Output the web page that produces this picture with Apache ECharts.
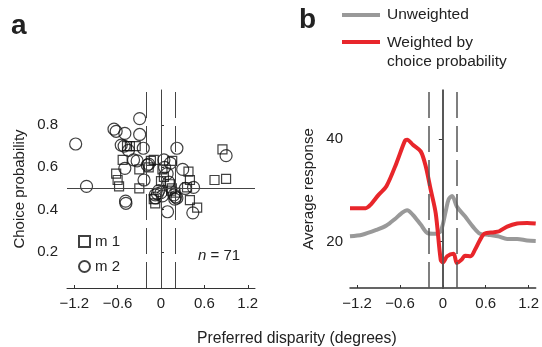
<!DOCTYPE html>
<html>
<head>
<meta charset="utf-8">
<script src="https://cdn.jsdelivr.net/npm/echarts@6/dist/echarts.min.js"></script>
<style>
  html, body { margin: 0; padding: 0; background: #fff; }
  #chart { width: 542px; height: 347px; }
</style>
</head>
<body>
<div id="chart"></div>
<script>
// panel a: choice probability vs preferred disparity
const m1Points = [
  [-0.62, 0.57], [-0.60, 0.54], [-0.58, 0.51], [-0.53, 0.635], [-0.47, 0.70], [-0.43, 0.70],
  [-0.35, 0.70], [-0.30, 0.59], [-0.30, 0.50], [-0.17, 0.60], [-0.14, 0.63], [-0.10, 0.635],
  [-0.10, 0.45], [-0.08, 0.43], [0.02, 0.59], [0.04, 0.555], [0.0, 0.535], [0.12, 0.52],
  [0.14, 0.49], [0.155, 0.63], [0.15, 0.50], [0.20, 0.48], [0.38, 0.58], [0.40, 0.54],
  [0.36, 0.505], [0.40, 0.445], [0.50, 0.41], [0.74, 0.54], [0.90, 0.545], [0.85, 0.685]
];
const m2Points = [
  [-1.18, 0.71], [-1.03, 0.51], [-0.295, 0.83], [-0.65, 0.78], [-0.62, 0.77], [-0.50, 0.76],
  [-0.295, 0.755], [-0.55, 0.705], [-0.51, 0.70], [-0.245, 0.69], [0.22, 0.69], [-0.38, 0.635],
  [-0.50, 0.595], [-0.19, 0.61], [-0.17, 0.615], [0.04, 0.635], [0.13, 0.62], [0.30, 0.59],
  [0.085, 0.57], [-0.235, 0.54], [0.107, 0.53], [0.45, 0.505], [0.335, 0.50], [-0.03, 0.49],
  [0.0, 0.48], [-0.05, 0.475], [-0.075, 0.455], [0.18, 0.47], [0.2, 0.46], [0.22, 0.455],
  [0.19, 0.45], [-0.49, 0.44], [-0.485, 0.43], [0.09, 0.39], [0.44, 0.385], [0.90, 0.655],
  [-0.45, 0.68], [-0.08, 0.47], [0.02, 0.465], [0.05, 0.60], [-0.33, 0.63]
];

// panel b: average response curves
const unweighted = [
  [-1.3, 21.0], [-1.13, 21.3], [-0.92, 22.3], [-0.79, 23.1], [-0.67, 24.4], [-0.58, 25.5],
  [-0.50, 26.1], [-0.42, 25.2], [-0.31, 23.3], [-0.21, 21.6], [-0.10, 21.5], [-0.03, 22.0],
  [0.04, 25.9], [0.08, 28.2], [0.13, 28.9], [0.196, 26.8], [0.31, 24.9], [0.42, 22.9],
  [0.52, 21.5], [0.63, 21.3], [0.77, 21.0], [0.90, 20.5], [1.04, 20.5], [1.18, 20.2], [1.3, 20.1]
];
const weighted = [
  [-1.3, 26.5], [-1.08, 26.5], [-1.01, 27.2], [-0.90, 29.1], [-0.79, 30.8], [-0.65, 35.3],
  [-0.53, 39.7], [-0.50, 39.9], [-0.42, 38.9], [-0.31, 37.6], [-0.24, 34.7], [-0.17, 30.1],
  [-0.10, 25.5], [-0.03, 16.4], [0.0, 15.9], [0.06, 17.1], [0.15, 17.6], [0.196, 15.8],
  [0.26, 16.4], [0.31, 17.2], [0.39, 17.1], [0.45, 18.4], [0.52, 20.3], [0.58, 21.5],
  [0.72, 21.8], [0.79, 22.0], [0.90, 22.9], [1.04, 23.5], [1.18, 23.6], [1.3, 23.5]
];

const xTicks = [-1.2, -0.6, 0, 0.6, 1.2];
const cpTicks = [0.2, 0.4, 0.6, 0.8];
const respTicks = [20, 40];

const FONT = 'Liberation Sans';
const fmtX = v => v === 0 ? '0' : (v < 0 ? '\u2212' : '') + Math.abs(v).toFixed(1);

const dashed = [26, 8];
const refLines = (hLine) => {
  const d = [
    { xAxis: 0 },
    { xAxis: -0.2, lineStyle: { type: dashed } },
    { xAxis: 0.2, lineStyle: { type: dashed } }
  ];
  if (hLine != null) d.push({ yAxis: hLine });
  return d;
};

function xAxisFor(gridIndex, lw) {
  return {
    type: 'value', gridIndex, min: -1.3, max: 1.3,
    axisLine: { lineStyle: { color: '#333', width: lw } },
    axisTick: { inside: true, length: 3, customValues: xTicks, lineStyle: { color: '#333' } },
    axisLabel: { customValues: xTicks, formatter: fmtX, fontFamily: FONT, fontSize: 15, color: '#222', margin: 8 },
    splitLine: { show: false }
  };
}

const chart = echarts.init(document.getElementById('chart'));

const option = {
  animation: false,
  backgroundColor: '#fff',
  grid: [
    { left: 67, top: 90, width: 188, height: 198 },
    { left: 350, top: 90, width: 189, height: 198 }
  ],
  xAxis: [xAxisFor(0, 1), xAxisFor(1, 1.5)],
  yAxis: [
    {
      type: 'value', gridIndex: 0, min: 0.03, max: 0.965,
      name: 'Choice probability', nameLocation: 'middle', nameGap: 40,
      nameTextStyle: { fontFamily: FONT, fontSize: 15, color: '#222' },
      axisLine: { show: true, lineStyle: { color: '#333', width: 1 } },
      axisTick: { show: true, inside: true, length: 3, customValues: cpTicks, lineStyle: { color: '#333' } },
      axisLabel: { customValues: cpTicks, formatter: v => v.toFixed(1), fontFamily: FONT, fontSize: 15, color: '#222', margin: 9 },
      splitLine: { show: false }
    },
    {
      type: 'value', gridIndex: 1, min: 10.9, max: 49.6,
      name: 'Average response', nameLocation: 'middle', nameGap: 34,
      nameTextStyle: { fontFamily: FONT, fontSize: 15, color: '#222' },
      axisLine: { show: true, lineStyle: { color: '#333', width: 1.5 } },
      axisTick: { show: true, length: 4, customValues: respTicks, lineStyle: { color: '#333' } },
      axisLabel: { customValues: respTicks, fontFamily: FONT, fontSize: 15, color: '#222', margin: 7 },
      splitLine: { show: false }
    }
  ],
  legend: {
    data: ['m 1', 'm 2'],
    orient: 'vertical', left: 73, top: 229,
    itemWidth: 11, itemHeight: 11, itemGap: 10,
    textStyle: { fontFamily: FONT, fontSize: 15, color: '#222' }
  },
  series: [
    {
      name: 'ref a', type: 'scatter', xAxisIndex: 0, yAxisIndex: 0, data: [], silent: true, z: 1,
      markLine: {
        silent: true, symbol: ['none', 'none'], label: { show: false },
        lineStyle: { color: '#444', width: 1, type: 'solid' },
        data: refLines(0.5)
      }
    },
    {
      name: 'm 1', type: 'scatter', xAxisIndex: 0, yAxisIndex: 0, data: m1Points,
      symbol: 'rect', symbolSize: 9, z: 3,
      itemStyle: { color: 'rgba(0,0,0,0)', borderColor: '#111', borderWidth: 1.2 }
    },
    {
      name: 'm 2', type: 'scatter', xAxisIndex: 0, yAxisIndex: 0, data: m2Points,
      symbol: 'circle', symbolSize: 12, z: 3,
      itemStyle: { color: 'rgba(0,0,0,0)', borderColor: '#111', borderWidth: 1.2 }
    },
    {
      name: 'ref b', type: 'line', xAxisIndex: 1, yAxisIndex: 1, data: [], silent: true, z: 1,
      markLine: {
        silent: true, symbol: ['none', 'none'], label: { show: false },
        lineStyle: { color: '#555', width: 1.5, type: 'solid' },
        data: refLines(null)
      }
    },
    {
      name: 'Unweighted', type: 'line', xAxisIndex: 1, yAxisIndex: 1, data: unweighted,
      showSymbol: false, smooth: 0.3, z: 3,
      lineStyle: { color: '#999', width: 4 }
    },
    {
      name: 'Weighted by choice probability', type: 'line', xAxisIndex: 1, yAxisIndex: 1, data: weighted,
      showSymbol: false, smooth: 0.3, z: 4,
      lineStyle: { color: '#e8262b', width: 4 }
    }
  ],
  graphic: [
    { type: 'text', left: 11, top: 12, style: { text: 'a', fontFamily: FONT, fontWeight: 'bold', fontSize: 28, fill: '#222' } },
    { type: 'text', left: 299, top: 6, style: { text: 'b', fontFamily: FONT, fontWeight: 'bold', fontSize: 28, fill: '#222' } },
    {
      type: 'text', left: 198, top: 248,
      style: {
        text: '{i|n} = 71', fontFamily: FONT, fontSize: 15, fill: '#222',
        rich: { i: { fontStyle: 'italic', fontFamily: FONT, fontSize: 15 } }
      }
    },
    { type: 'text', left: 197, top: 331, style: { text: 'Preferred disparity (degrees)', fontFamily: FONT, fontSize: 15.7, fill: '#222' } },
    { type: 'line', shape: { x1: 342, y1: 15, x2: 380, y2: 15 }, style: { stroke: '#999', lineWidth: 4 } },
    { type: 'line', shape: { x1: 342, y1: 42, x2: 380, y2: 42 }, style: { stroke: '#e8262b', lineWidth: 4 } },
    { type: 'text', left: 387, top: 7, style: { text: 'Unweighted', fontFamily: FONT, fontSize: 15.5, fill: '#222' } },
    {
      type: 'text', left: 387, top: 33,
      style: { text: 'Weighted by\nchoice probability', fontFamily: FONT, fontSize: 15.5, lineHeight: 19, fill: '#222' }
    }
  ]
};

chart.setOption(option);
</script>
</body>
</html>
